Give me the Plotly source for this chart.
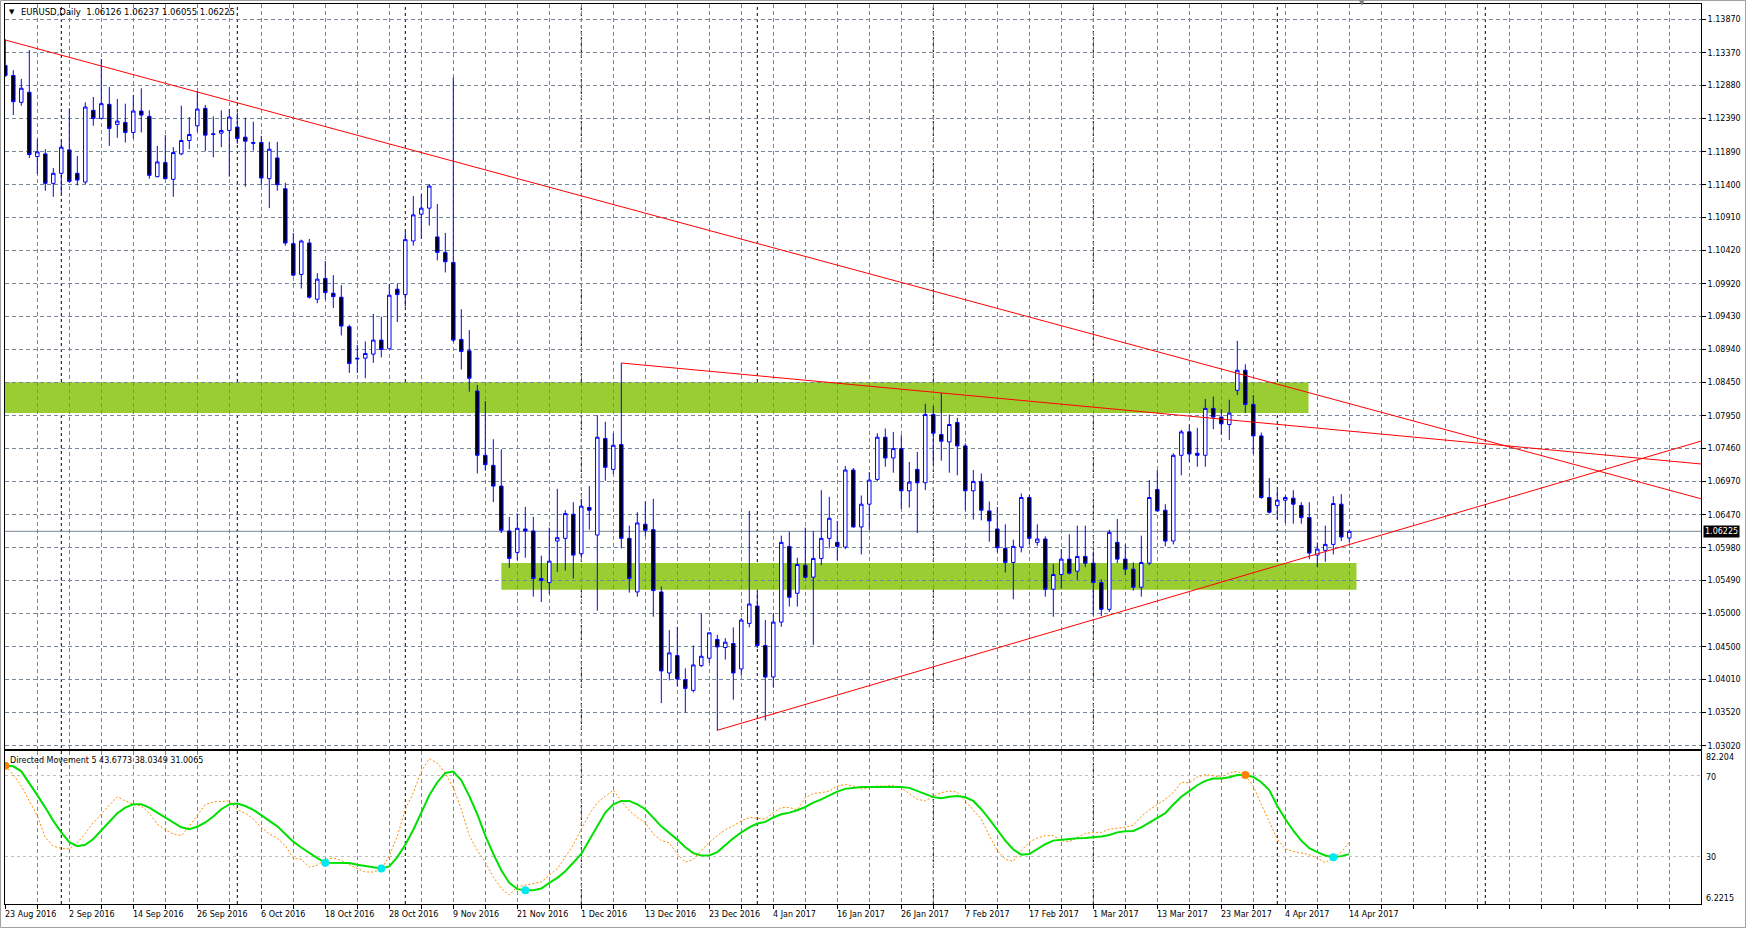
import plotly.graph_objects as go

# ---------------- data (EURUSD daily) ----------------
open_ = [1.1318,1.1303,1.1263,1.1278,1.1182,1.1186,1.1142,1.1157,1.1192,1.1157,
1.1144,1.1251,1.1239,1.1260,1.1230,1.1233,1.1218,1.1250,1.1242,1.1152,
1.1173,1.1148,1.1186,1.1206,1.1228,1.1254,1.1216,1.1217,1.1221,1.1226,
1.1211,1.1203,1.1203,1.1149,1.1180,1.1134,1.1052,1.1006,1.1053,1.0969,
1.1000,1.0978,1.0972,1.0928,1.0881,1.0881,1.0887,1.0908,1.0895,1.0984,
1.0976,1.1056,1.1096,1.1105,1.1062,1.1039,1.1024,1.0909,1.0892,1.0832,
1.0736,1.0721,1.0690,1.0623,1.0591,1.0626,1.0623,1.0549,1.0546,1.0608,
1.0612,1.0648,1.0589,1.0658,1.0617,1.0761,1.0715,1.0752,1.0612,1.0532,
1.0633,1.0625,1.0532,1.0411,1.0437,1.0401,1.0385,1.0422,1.0433,1.0461,
1.0449,1.0455,1.0417,1.0485,1.0511,1.0452,1.0405,1.0487,1.0600,1.0530,
1.0572,1.0554,1.0582,1.0612,1.0606,1.0599,1.0714,1.0629,1.0663,1.0700,
1.0763,1.0732,1.0746,1.0683,1.0715,1.0695,1.0797,1.0767,1.0756,1.0785,
1.0750,1.0683,1.0697,1.0653,1.0626,1.0597,1.0576,1.0599,1.0673,1.0606,
1.0611,1.0536,1.0558,1.0581,1.0563,1.0585,1.0575,1.0546,1.0506,1.0606,
1.0581,1.0566,1.0539,1.0575,1.0685,1.0654,1.0608,1.0736,1.0771,1.0739,
1.0736,1.0806,1.0793,1.0782,1.0833,1.0863,1.0812,1.0765,1.0673,1.0661,
1.0669,1.0672,1.0661,1.0643,1.0587,1.0594,1.0603,1.0663,1.06126]

high_ = [1.1357,1.1311,1.1298,1.1341,1.1208,1.1193,1.1165,1.1205,1.1254,1.1183,
1.1263,1.1271,1.1328,1.1286,1.1268,1.1261,1.1274,1.1284,1.1251,1.1198,
1.1214,1.1196,1.1258,1.1241,1.1280,1.1259,1.1242,1.1251,1.1253,1.1248,
1.1240,1.1234,1.1213,1.1204,1.1204,1.1143,1.1068,1.1058,1.1059,1.1008,
1.1026,1.1005,1.0990,1.0931,1.0901,1.0906,1.0947,1.0943,1.0992,1.0992,
1.1070,1.1123,1.1126,1.1141,1.1111,1.1068,1.1300,1.0954,1.0923,1.0841,
1.0817,1.0760,1.0745,1.0644,1.0649,1.0659,1.0644,1.0586,1.0628,1.0686,
1.0654,1.0666,1.0668,1.0690,1.0796,1.0786,1.0769,1.0874,1.0631,1.0651,
1.0667,1.0671,1.0540,1.0475,1.0480,1.0418,1.0452,1.0500,1.0471,1.0468,
1.0463,1.0479,1.0493,1.0653,1.0532,1.0490,1.0500,1.0616,1.0622,1.0583,
1.0628,1.0623,1.0684,1.0674,1.0638,1.0720,1.0717,1.0676,1.0711,1.0769,
1.0776,1.0771,1.0766,1.0726,1.0741,1.0813,1.0810,1.0829,1.0797,1.0792,
1.0754,1.0714,1.0709,1.0667,1.0659,1.0633,1.0610,1.0679,1.0677,1.0633,
1.0615,1.0574,1.0596,1.0618,1.0631,1.0631,1.0592,1.0551,1.0625,1.0641,
1.0603,1.0576,1.0616,1.0699,1.0714,1.0663,1.0739,1.0774,1.0782,1.0777,
1.0820,1.0824,1.0805,1.0819,1.0907,1.0872,1.0826,1.0770,1.0702,1.0684,
1.0676,1.0684,1.0666,1.0666,1.0606,1.0631,1.0675,1.0678,1.06237]

low_ = [1.1301,1.1244,1.1258,1.1180,1.1156,1.1131,1.1122,1.1127,1.1143,1.1139,
1.1141,1.1228,1.1238,1.1198,1.1210,1.1203,1.1209,1.1218,1.1149,1.1151,
1.1149,1.1122,1.1184,1.1193,1.1219,1.1190,1.1181,1.1196,1.1152,1.1201,
1.1137,1.1191,1.1139,1.1105,1.1131,1.1049,1.1003,1.0985,1.0970,1.0963,
1.0969,1.0956,1.0915,1.0859,1.0859,1.0851,1.0874,1.0882,1.0895,1.0935,
1.0958,1.1049,1.1059,1.1079,1.1027,1.1009,1.0905,1.0864,1.0831,1.0709,
1.0713,1.0666,1.0620,1.0568,1.0579,1.0583,1.0525,1.0517,1.0529,1.0562,
1.0564,1.0552,1.0583,1.0625,1.0504,1.0698,1.0708,1.0597,1.0531,1.0525,
1.0615,1.0495,1.0366,1.0400,1.0391,1.0352,1.0382,1.0420,1.0426,1.0325,
1.0431,1.0371,1.0407,1.0479,1.0448,1.0340,1.0389,1.0480,1.0510,1.0510,
1.0552,1.0453,1.0572,1.0597,1.0579,1.0596,1.0628,1.0588,1.0625,1.0697,
1.0719,1.0710,1.0656,1.0658,1.0620,1.0684,1.0725,1.0728,1.0710,1.0706,
1.0654,1.0640,1.0639,1.0607,1.0591,1.0561,1.0521,1.0591,1.0603,1.0601,
1.0525,1.0495,1.0537,1.0558,1.0550,1.0569,1.0498,1.0496,1.0502,1.0575,
1.0557,1.0534,1.0525,1.0572,1.0652,1.0600,1.0603,1.0706,1.0726,1.0719,
1.0719,1.0775,1.0767,1.0759,1.0826,1.0799,1.0738,1.0671,1.0649,1.0641,
1.0635,1.0634,1.0634,1.0581,1.0569,1.0577,1.0588,1.0608,1.06055]

close_ = [1.1303,1.1264,1.1284,1.1185,1.1189,1.1142,1.1157,1.1196,1.1145,1.1147,
1.1256,1.1239,1.1261,1.1224,1.1235,1.1218,1.1250,1.1244,1.1154,1.1174,
1.1149,1.1188,1.1206,1.1215,1.1253,1.1214,1.1215,1.1221,1.1241,1.1209,
1.1205,1.1202,1.1150,1.1193,1.1140,1.1053,1.1005,1.1056,1.0972,1.0999,
1.0979,1.0973,1.0929,1.0873,1.0880,1.0888,1.0908,1.0894,1.0975,1.0976,
1.1058,1.1095,1.1105,1.1138,1.1039,1.1025,1.0908,1.0891,1.0851,1.0736,
1.0722,1.0690,1.0624,1.0582,1.0627,1.0623,1.0552,1.0552,1.0578,1.0613,
1.0649,1.0587,1.0660,1.0654,1.0763,1.0718,1.0751,1.0612,1.0552,1.0635,
1.0624,1.0534,1.0414,1.0441,1.0402,1.0388,1.0423,1.0436,1.0471,1.0450,
1.0457,1.0411,1.0490,1.0514,1.0452,1.0405,1.0487,1.0606,1.0524,1.0573,
1.0554,1.0582,1.0612,1.0642,1.0600,1.0714,1.0629,1.0663,1.0699,1.0763,
1.0732,1.0746,1.0683,1.0696,1.0695,1.0797,1.0769,1.0757,1.0782,1.0750,
1.0683,1.0697,1.0654,1.0638,1.0598,1.0576,1.0600,1.0673,1.0612,1.0611,
1.0536,1.0558,1.0581,1.0560,1.0585,1.0575,1.0546,1.0506,1.0621,1.0581,
1.0566,1.0539,1.0576,1.0673,1.0653,1.0608,1.0736,1.0771,1.0738,1.0736,
1.0806,1.0793,1.0783,1.0799,1.0863,1.0812,1.0765,1.0673,1.0651,1.0669,
1.0673,1.0663,1.0643,1.0590,1.0596,1.0603,1.0664,1.0614,1.06225]

# Directed Movement indicator (solid green line and dotted orange line)
dm_main = [74.9,74.6,72.1,66.4,60.3,54.1,47.5,41.8,36.9,34.9,
35.6,38.5,42.6,47.0,51.3,54.1,55.7,55.7,54.1,51.6,
49.2,46.7,44.3,43.4,44.6,46.7,49.7,53.3,55.7,56.1,
54.9,53.0,50.3,47.5,44.8,41.0,37.2,34.3,31.6,29.0,
26.7,26.7,26.7,26.6,25.7,25.1,24.4,23.8,24.9,29.5,
35.6,43.1,51.6,60.2,66.7,71.3,72.0,67.7,59.8,50.8,
40.2,31.1,23.0,16.7,13.6,13.1,13.1,13.9,16.7,19.2,
22.5,27.0,31.1,38.0,44.8,51.6,55.7,57.4,57.4,55.7,
53.3,49.2,44.8,41.5,38.2,34.4,31.5,30.3,30.3,32.0,
35.6,38.9,41.8,44.3,46.2,47.0,49.2,50.8,51.6,52.8,
54.4,56.6,58.2,60.2,62.0,63.4,63.9,64.3,64.3,64.3,
64.3,64.3,64.3,63.9,62.3,61.0,59.3,58.7,59.5,59.8,
59.2,57.4,53.3,48.4,43.1,37.7,33.3,30.7,31.0,33.6,
35.9,37.7,38.2,38.5,38.9,39.0,39.3,39.7,40.5,41.8,
42.3,42.5,44.3,46.7,48.9,51.3,55.6,59.5,62.3,65.2,
67.4,68.5,68.5,69.2,70.3,70.3,69.3,66.7,62.8,54.9,
48.4,42.6,37.7,33.9,32.0,30.3,29.5,30.0,31.0]

dm_signal = [74.6,70.5,64.8,57.7,50.0,39.3,34.9,33.9,33.6,36.6,
41.3,46.7,50.8,54.9,59.5,57.4,55.7,54.9,51.3,45.9,
43.1,41.0,40.2,44.8,50.3,55.6,56.9,57.2,57.4,53.0,
51.3,48.4,44.3,41.0,38.9,35.2,29.0,28.4,24.6,25.4,
28.4,29.0,27.9,25.7,23.8,22.1,22.1,23.4,30.3,39.8,
53.3,61.5,72.1,78.4,76.2,71.3,63.9,53.3,40.2,32.8,
27.0,19.7,13.9,10.7,14.8,15.6,16.4,17.2,20.5,23.8,
29.5,35.6,43.4,50.8,56.6,59.8,62.8,57.4,52.5,49.2,
46.7,41.0,37.7,36.6,31.1,27.0,28.4,32.8,36.9,40.2,
43.1,45.1,47.5,49.2,48.7,48.4,51.6,54.1,54.1,53.0,
59.0,61.1,61.5,62.3,64.8,65.6,64.8,63.4,63.9,64.8,
64.8,65.2,63.9,61.1,58.2,57.4,59.8,61.5,62.3,61.8,
57.4,52.5,48.4,40.2,32.8,28.4,27.4,32.8,36.9,39.0,
40.2,40.2,37.7,37.2,39.3,41.3,41.8,41.8,43.4,43.8,
44.3,45.4,49.7,53.0,55.7,58.2,61.5,66.7,66.4,69.3,
70.5,70.0,69.3,71.3,72.1,70.0,64.8,55.7,47.0,38.5,
33.6,32.3,31.6,30.7,29.0,26.7,29.5,32.0,37.0]

orange_dot_bars = [0, 155]
cyan_dot_bars = [40, 47, 65, 166]

date_tick_bars = [0, 8, 16, 24, 32, 40, 48, 56, 64, 72, 80, 88, 96, 104, 112,
                  120, 128, 136, 144, 152, 160, 168]
date_tick_labels = ["23 Aug 2016", "2 Sep 2016", "14 Sep 2016", "26 Sep 2016",
                    "6 Oct 2016", "18 Oct 2016", "28 Oct 2016", "9 Nov 2016",
                    "21 Nov 2016", "1 Dec 2016", "13 Dec 2016", "23 Dec 2016",
                    "4 Jan 2017", "16 Jan 2017", "26 Jan 2017", "7 Feb 2017",
                    "17 Feb 2017", "1 Mar 2017", "13 Mar 2017", "23 Mar 2017",
                    "4 Apr 2017", "14 Apr 2017"]
month_separator_bars = [7, 29, 50, 72, 94, 116, 136, 159, 185]

price_ticks = [1.13870, 1.13370, 1.12880, 1.12390, 1.11890, 1.11400, 1.10910,
               1.10420, 1.09920, 1.09430, 1.08940, 1.08450, 1.07950, 1.07460,
               1.06970, 1.06470, 1.05980, 1.05490, 1.05000, 1.04500, 1.04010,
               1.03520, 1.03020]
price_tick_labels = ["%.5f" % p for p in price_ticks]

# support / resistance zones: [first bar, last bar, bottom price, top price]
zone_upper = [-2, 162.9, 1.07991, 1.08450]
zone_lower = [62, 168.9, 1.05353, 1.05752]

# trend lines: start anchor (bar, price) and end anchor (bar, price)
trend_start_bar = [0, 77, 89]
trend_start_price = [1.13560, 1.08738, 1.03254]
trend_end_bar = [212, 212, 212]
trend_end_price = [1.06710, 1.07230, 1.07573]

ind_scale_max = 82.204
ind_scale_min = 6.2215
ind_levels = [70, 30]

# ---------------- figure ----------------
W, H = 1746, 928
ML, MR, MT, MB = 5, 45, 4, 24
PW, PH = W - ML - MR, H - MT - MB

def px_x(px):
    return (px - ML) / PW

def px_y(py):
    return (H - MB - py) / PH

bars = list(range(len(open_)))
FONT = "DejaVu Sans"
GRID = "#778899"

fig = go.Figure()

fig.add_trace(go.Candlestick(
    x=bars, open=open_, high=high_, low=low_, close=close_,
    increasing=dict(line=dict(color="#0000ff", width=1), fillcolor="#ffffff"),
    decreasing=dict(line=dict(color="#0000ff", width=1), fillcolor="#000000"),
    whiskerwidth=0, showlegend=False, hoverinfo="skip",
    xaxis="x", yaxis="y"))

for xs, ys, xe, ye in zip(trend_start_bar, trend_start_price, trend_end_bar, trend_end_price):
    fig.add_trace(go.Scatter(x=[xs, xe], y=[ys, ye], mode="lines",
                             line=dict(color="#ff0000", width=1),
                             showlegend=False, hoverinfo="skip",
                             xaxis="x", yaxis="y"))

fig.add_trace(go.Scatter(x=bars, y=dm_signal, mode="lines",
                         line=dict(color="#ff8c00", width=1, dash="2px,2px"),
                         showlegend=False, hoverinfo="skip", xaxis="x2", yaxis="y2"))
fig.add_trace(go.Scatter(x=bars, y=dm_main, mode="lines",
                         line=dict(color="#00e000", width=2),
                         showlegend=False, hoverinfo="skip", xaxis="x2", yaxis="y2"))
fig.add_trace(go.Scatter(x=orange_dot_bars, y=[dm_main[i] for i in orange_dot_bars],
                         mode="markers", marker=dict(color="#ff8000", size=8),
                         showlegend=False, hoverinfo="skip", xaxis="x2", yaxis="y2"))
fig.add_trace(go.Scatter(x=cyan_dot_bars, y=[dm_main[i] for i in cyan_dot_bars],
                         mode="markers", marker=dict(color="#00e8f0", size=8),
                         showlegend=False, hoverinfo="skip", xaxis="x2", yaxis="y2"))

shapes = []
for z in (zone_upper, zone_lower):
    shapes.append(dict(type="rect", xref="x", yref="y", x0=z[0], x1=z[1], y0=z[2], y1=z[3],
                       fillcolor="#9acd32", line=dict(width=0), layer="below"))
for b in month_separator_bars:
    shapes.append(dict(type="line", xref="x", yref="paper", x0=b, x1=b, y0=0, y1=1,
                       line=dict(color="#000000", width=1, dash="3px,3px"), layer="between"))
shapes.append(dict(type="line", xref="paper", yref="y", x0=0, x1=1,
                   y0=close_[-1], y1=close_[-1],
                   line=dict(color="#778899", width=1), layer="between"))
# light window border
shapes.append(dict(type="rect", xref="paper", yref="paper",
                   x0=px_x(0.5), x1=px_x(W - 0.5), y0=px_y(H - 0.5), y1=px_y(0.5),
                   line=dict(color="#a0a0a0", width=1), fillcolor="rgba(0,0,0,0)", layer="below"))

main_bottom_px, ind_top_px = 749, 751
xrange = [-0.0375, 211.9625]
grid_bars = list(range(0, 212, 4))

annotations = []
annotations.append(dict(text="▼", x=px_x(7), y=px_y(12), xref="paper", yref="paper",
                        xanchor="left", yanchor="middle", showarrow=False,
                        font=dict(family=FONT, size=7, color="#000000")))
annotations.append(dict(
    text="EURUSD,Daily  %.5f %.5f %.5f %.5f" % (open_[-1], high_[-1], low_[-1], close_[-1]),
    x=px_x(19), y=px_y(12), xref="paper", yref="paper", xanchor="left", yanchor="middle",
    showarrow=False, font=dict(family=FONT, size=8.5, color="#000000")))
annotations.append(dict(text="Directed Movement 5 43.6773 38.0349 31.0065",
                        x=px_x(8), y=px_y(760), xref="paper", yref="paper",
                        xanchor="left", yanchor="middle", showarrow=False,
                        font=dict(family=FONT, size=8, color="#000000")))
# current price box
annotations.append(dict(text="%.5f" % close_[-1], x=1, xref="paper", y=close_[-1], yref="y",
                        xanchor="left", yanchor="middle", xshift=2, showarrow=False,
                        bgcolor="#000000", borderpad=1,
                        font=dict(family=FONT, size=8, color="#ffffff")))
# indicator scale labels
for txt, py in ((("%g" % ind_scale_max), 757), ("70", 777), ("30", 857), (("%g" % ind_scale_min), 898)):
    annotations.append(dict(text=txt, x=px_x(1704), y=px_y(py), xref="paper", yref="paper",
                            xanchor="left", yanchor="middle", showarrow=False,
                            font=dict(family=FONT, size=8, color="#000000")))
# date labels (left aligned at tick)
for b, lab in zip(date_tick_bars, date_tick_labels):
    annotations.append(dict(text=lab, x=b, xref="x2", y=px_y(915), yref="paper",
                            xanchor="left", yanchor="middle", xshift=-2, showarrow=False,
                            font=dict(family=FONT, size=8, color="#000000")))
# chart-shift marker
annotations.append(dict(text="▼", x=len(bars) + 0.6, xref="x", y=px_y(3), yref="paper",
                        xanchor="center", yanchor="middle", showarrow=False,
                        font=dict(family=FONT, size=7, color="#808080")))

axis_common = dict(showline=True, linecolor="#000000", linewidth=1, mirror=True,
                   zeroline=False, showgrid=True, gridcolor=GRID, gridwidth=1,
                   griddash="4px,3px")

fig.update_layout(
    width=W, height=H, autosize=False,
    margin=dict(l=ML, r=MR, t=MT, b=MB),
    paper_bgcolor="#ffffff", plot_bgcolor="#ffffff",
    showlegend=False, boxgap=0.38,
    xaxis=dict(domain=[0, 1], range=xrange, anchor="y", tickmode="array",
               tickvals=grid_bars, showticklabels=False, ticks="",
               rangeslider=dict(visible=False), **axis_common),
    yaxis=dict(domain=[px_y(main_bottom_px), 1], range=[1.02975, 1.14098], side="right",
               tickmode="array", tickvals=price_ticks, ticktext=price_tick_labels,
               ticks="outside", ticklen=4, tickcolor="#000000",
               tickfont=dict(family=FONT, size=8, color="#000000"), **axis_common),
    xaxis2=dict(domain=[0, 1], range=xrange, matches="x", anchor="y2", tickmode="array",
                tickvals=grid_bars, showticklabels=False, ticks="outside", ticklen=4,
                tickcolor="#000000", **axis_common),
    yaxis2=dict(domain=[0, px_y(ind_top_px)], range=[ind_scale_min, ind_scale_max],
                side="right", tickmode="array", tickvals=ind_levels, showticklabels=False,
                ticks="", showline=True, linecolor="#000000", linewidth=1, mirror=True,
                zeroline=False, showgrid=True, gridcolor="#c0c0c0", gridwidth=1,
                griddash="3px,3px"),
    shapes=shapes, annotations=annotations,
)

fig.write_html("out.html")
